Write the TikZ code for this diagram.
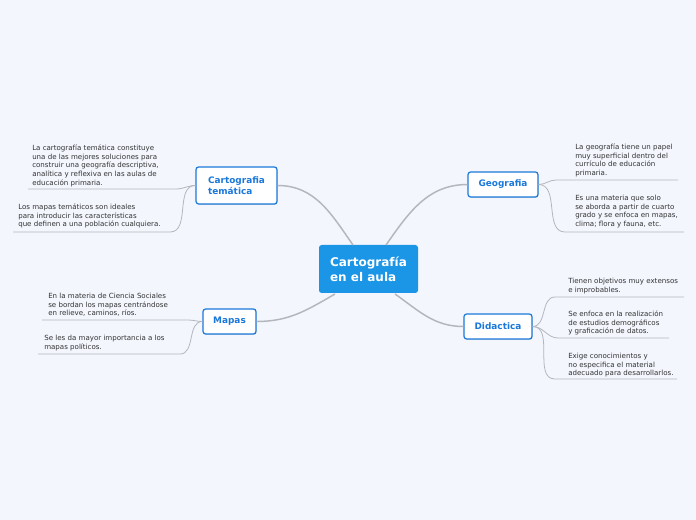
\documentclass[tikz,border=0pt]{standalone}
\usepackage{fontspec}
\setmainfont{DejaVu Sans}
\usetikzlibrary{shadows}

\definecolor{bgcol}{HTML}{F3F6FD}
\definecolor{maincol}{HTML}{1B95E6}
\definecolor{topiccol}{HTML}{1A78DB}
\definecolor{linecol}{HTML}{B4B6BE}
\definecolor{leafcol}{HTML}{333333}

\tikzset{
  topic/.style={draw=topiccol, line width=0.9pt, fill=white, rounded corners=2pt,
    text=topiccol, align=left, inner sep=0pt,
    font=\fontsize{6.7}{8.3}\selectfont\bfseries,
    drop shadow={shadow xshift=0.4pt, shadow yshift=-0.7pt, opacity=0.25}},
  leaf/.style={anchor=north west, inner sep=0pt, align=left, text=leafcol,
    font=\fontsize{5.3}{6.4}\selectfont},
  branch/.style={draw=linecol, line width=1.1pt},
  twig/.style={draw=linecol, line width=0.6pt},
}

\begin{document}
\begin{tikzpicture}[x=0.75pt, y=0.75pt]
    \fill[bgcol] (0,0) rectangle (696,-520);
    \useasboundingbox (0,0) rectangle (696,-520);

    \node[fill=maincol, rounded corners=2pt, text=white, align=left, inner sep=0pt,
        minimum width=74.25pt, minimum height=36pt, font=\fontsize{9}{11.3}\selectfont\bfseries]
        (cen) at (368.5,-269) {Cartografía\\en el aula};
    \node[topic, minimum width=60.75pt, minimum height=27.75pt] (ct) at (236.5,-185.5) {Cartografia\\temática};
    \node[topic, minimum width=52.5pt, minimum height=18.75pt] (geo) at (503,-184.5) {Geografia};
    \node[topic, minimum width=39.75pt, minimum height=18.75pt] (map) at (229.5,-321.5) {Mapas};
    \node[topic, minimum width=51pt, minimum height=18.75pt] (did) at (498,-326.5) {Didactica};

    \coordinate (cenct) at (353,-245);
    \coordinate (cengeo) at (386,-245);
    \coordinate (cenmap) at (335,-294);
    \coordinate (cendid) at (395,-294);
    \draw[branch] (cenct) to[out=125, in=0] (ct.east);
    \draw[branch] (cengeo) to[out=55, in=180] (geo.west);
    \draw[branch] (cenmap) to[out=-150, in=0] (map.east);
    \draw[branch] (cendid) to[out=-35, in=180] (did.west);

    \node[leaf] (ct1) at (32,-145) {La cartografía temática constituye\\una de las mejores soluciones para\\construir una geografía descriptiva,\\analítica y reflexiva en las aulas de\\educación primaria.};
    \node[leaf] (ct2) at (18,-204) {Los mapas temáticos son ideales\\para introducir las características\\que definen a una población cualquiera.};
    \node[leaf] (geo1) at (575,-144) {La geografía tiene un papel\\muy superficial dentro del\\currículo de educación\\primaria.};
    \node[leaf] (geo2) at (575,-195) {Es una materia que solo\\se aborda a partir de cuarto\\grado y se enfoca en mapas,\\clima; flora y fauna, etc.};
    \node[leaf] (map1) at (48,-293) {En la materia de Ciencia Sociales\\se bordan los mapas centrándose\\en relieve, caminos, ríos.};
    \node[leaf] (map2) at (44,-335) {Se les da mayor importancia a los\\mapas políticos.};
    \node[leaf] (did1) at (568,-278) {Tienen objetivos muy extensos\\e improbables.};
    \node[leaf] (did2) at (568,-311) {Se enfoca en la realización\\de estudios demográficos\\y graficación de datos.};
    \node[leaf] (did3) at (568,-353) {Exige conocimientos y\\no especifica el material\\adecuado para desarrollarlos.};

    \coordinate (ct1a) at (176,-189);  \coordinate (ct1b) at (28,-189);
    \coordinate (ct2a) at (170,-232);  \coordinate (ct2b) at (13,-232);
    \coordinate (geo1a) at (556,-180); \coordinate (geo1b) at (678,-180);
    \coordinate (geo2a) at (565,-232); \coordinate (geo2b) at (684,-232);
    \coordinate (map1a) at (188,-320); \coordinate (map1b) at (42,-320);
    \coordinate (map2a) at (180,-354); \coordinate (map2b) at (38,-354);
    \coordinate (did1a) at (555,-297); \coordinate (did1b) at (684,-297);
    \coordinate (did2a) at (558,-338); \coordinate (did2b) at (669,-338);
    \coordinate (did3a) at (555,-379); \coordinate (did3b) at (677,-379);

    \draw[twig] (ct.west) to[out=180, in=0] (ct1a) -- (ct1b);
    \draw[twig] (ct.west) to[out=180, in=0] (ct2a) -- (ct2b);
    \draw[twig] (geo.east) to[out=0, in=180] (geo1a) -- (geo1b);
    \draw[twig] (geo.east) to[out=0, in=180] (geo2a) -- (geo2b);
    \draw[twig] (map.west) to[out=180, in=0] (map1a) -- (map1b);
    \draw[twig] (map.west) to[out=180, in=0] (map2a) -- (map2b);
    \draw[twig] (did.east) to[out=0, in=180] (did1a) -- (did1b);
    \draw[twig] (did.east) to[out=0, in=180] (did2a) -- (did2b);
    \draw[twig] (did.east) to[out=0, in=180] (did3a) -- (did3b);
\end{tikzpicture}
\end{document}
